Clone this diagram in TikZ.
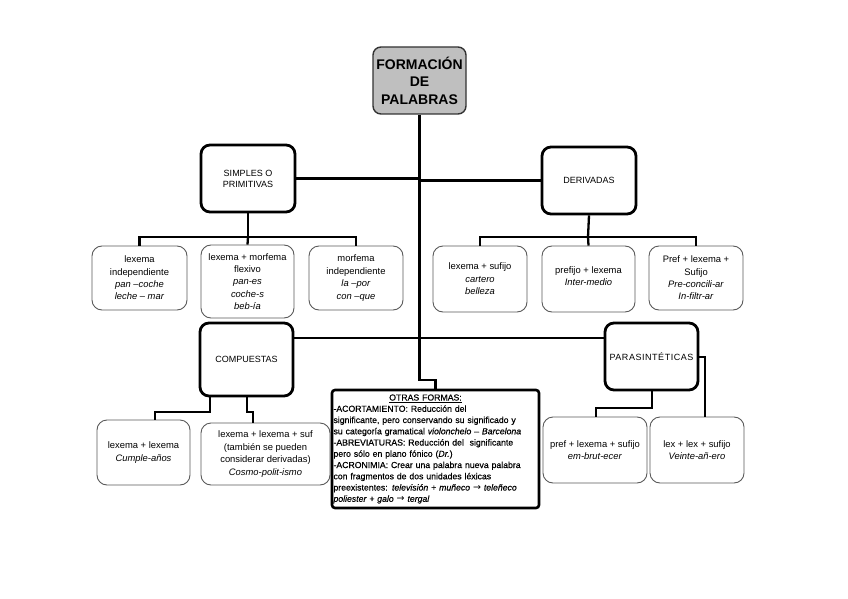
\documentclass[tikz,border=0pt]{standalone}
\usepackage{fontspec}
\setmainfont{Liberation Sans}
\newfontfamily\djv{DejaVu Sans}
\usetikzlibrary{calc}
\newcommand{\arr}{{\djv\fontsize{9.5}{10}\selectfont →}}
\begin{document}
\begin{tikzpicture}[x=1pt,y=-1pt,
  cat/.style={draw, line width=2.8pt, rounded corners=9pt, align=center,
    font=\fontsize{9}{11}\selectfont, inner sep=0pt},
  leaf/.style={draw=black!65, line width=0.9pt, rounded corners=10pt, align=center,
    font=\fontsize{9.4}{12.4}\selectfont, inner sep=0pt},
  titlebox/.style={draw=black!80, fill=black!25, line width=1.4pt, rounded corners=8pt,
    align=center, font=\fontsize{14}{17.5}\selectfont\bfseries, inner sep=0pt},
  otrasbox/.style={draw, line width=2.6pt, rounded corners=3pt, align=left,
    font=\fontsize{8.7}{11.25}\selectfont\addfontfeature{FakeBold=0.35}, inner xsep=1.5pt, inner ysep=0pt},
  conn/.style={line width=2.3pt, line join=miter}]
\useasboundingbox (0,0) rectangle (848,599);
% title
\node[titlebox, minimum width=93pt, minimum height=67pt] (title) at (419.5,80.5)
  {FORMACIÓN\\DE\\PALABRAS};
% categories
\node[cat, minimum width=94pt, minimum height=67pt] (simples) at (248,178.5) {SIMPLES O\\PRIMITIVAS};
\node[cat, minimum width=94pt, minimum height=67pt] (derivadas) at (589,180.5) {DERIVADAS};
\node[cat, minimum width=93pt, minimum height=73pt] (compuestas) at (246.5,359.5) {COMPUESTAS};
\node[cat, minimum width=93pt, minimum height=67pt] (parasint) at (651.5,356.5)
  {\addfontfeature{LetterSpace=6}PARASINTÉTICAS};
% leaves simples
\node[leaf, minimum width=95pt, minimum height=64pt] (l1) at (139.5,278)
  {lexema\\independiente\\\textit{pan –coche}\\\textit{leche – mar}};
\node[leaf, minimum width=93pt, minimum height=73pt] (l2) at (247.5,281.5)
  {lexema + morfema\\flexivo\\\textit{pan-es}\\\textit{coche-s}\\\textit{beb-ía}};
\node[leaf, minimum width=94pt, minimum height=64pt] (l3) at (356,278)
  {morfema\\independiente\\\textit{la –por}\\\textit{con –que}};
% leaves derivadas
\node[leaf, minimum width=94pt, minimum height=66pt] (d1) at (480,279)
  {lexema + sufijo\\\textit{cartero}\\\textit{belleza}};
\node[leaf, minimum width=93pt, minimum height=66pt] (d2) at (588.5,279)
  {prefijo + lexema\\\textit{Inter-medio}\\[-6pt]};
\node[leaf, minimum width=94pt, minimum height=64pt] (d3) at (696,278)
  {Pref + lexema +\\Sufijo\\\textit{Pre-concili-ar}\\\textit{In-filtr-ar}};
% leaves compuestas
\node[leaf, minimum width=93pt, minimum height=65pt] (c1) at (143.5,452.5)
  {lexema + lexema\\\textit{Cumple-años}};
\node[leaf, minimum width=129pt, minimum height=62pt] (c2) at (265.5,454)
  {lexema + lexema + suf\\(también se pueden\\considerar derivadas)\\\textit{Cosmo-polit-ismo}};
% leaves parasinteticas
\node[leaf, minimum width=104pt, minimum height=66pt] (p1) at (595,450)
  {pref + lexema + sufijo\\\textit{em-brut-ecer}};
\node[leaf, minimum width=94pt, minimum height=66pt] (p2) at (697,450)
  {lex + lex + sufijo\\\textit{Veinte-añ-ero}};
% otras formas
\node[otrasbox, text width=204pt, minimum height=118pt] (otras) at (435.5,449)
  {\makebox[184pt]{\underline{OTRAS FORMAS:}}\\
   -ACORTAMIENTO: Reducción del\\
   significante, pero conservando su significado y\\
   su categoría gramatical \textit{violonchelo – Barcelona}\\
   -ABREVIATURAS: Reducción del\ \ significante\\
   pero sólo en plano fónico (\textit{Dr.})\\
   -ACRONIMIA: Crear una palabra nueva palabra\\
   con fragmentos de dos unidades léxicas\\
   preexistentes: \textit{televisión + muñeco \arr{} teleñeco}\\
   \textit{poliester + galo \arr{} tergal}};
% coordinates
\coordinate (jog) at (419.5,380);
\coordinate (hline) at (419.5,338);
\coordinate (sbar) at (248,237);
\coordinate (dbar) at (588,237);
\coordinate (cL) at (210,412); \coordinate (cLd) at (155,412);
\coordinate (cR) at (247,412); \coordinate (cRd) at (253,412);
\coordinate (pL) at (652,408); \coordinate (pLd) at (596,408);
\coordinate (pR) at (705,357);
% connectors
\draw[conn] (title.south) -- (jog) -| (otras.north);
\draw[conn] (simples.east) -- (simples.east -| title.south);
\draw[conn] (derivadas.west) -- (derivadas.west -| title.south);
\draw[conn] (simples.south) -- (sbar);
\draw[conn] (l1.north) |- (sbar) -| (l3.north);
\draw[conn] (sbar) -- (l2.north);
\draw[conn] (derivadas.south) -- (dbar);
\draw[conn] (d1.north) |- (dbar) -| (d3.north);
\draw[conn] (dbar) -- (d2.north);
\draw[conn] (compuestas.east |- hline) -- (parasint.west |- hline);
\draw[conn] (compuestas.south -| cL) -- (cL) -- (cLd) -- (c1.north -| cLd);
\draw[conn] (compuestas.south -| cR) -- (cR) -- (cRd) -- (c2.north -| cRd);
\draw[conn] (parasint.south -| pL) -- (pL) -- (pLd) -- (p1.north -| pLd);
\draw[conn] (parasint.east |- pR) -- (pR) -- (p2.north -| pR);
\end{tikzpicture}
\end{document}
